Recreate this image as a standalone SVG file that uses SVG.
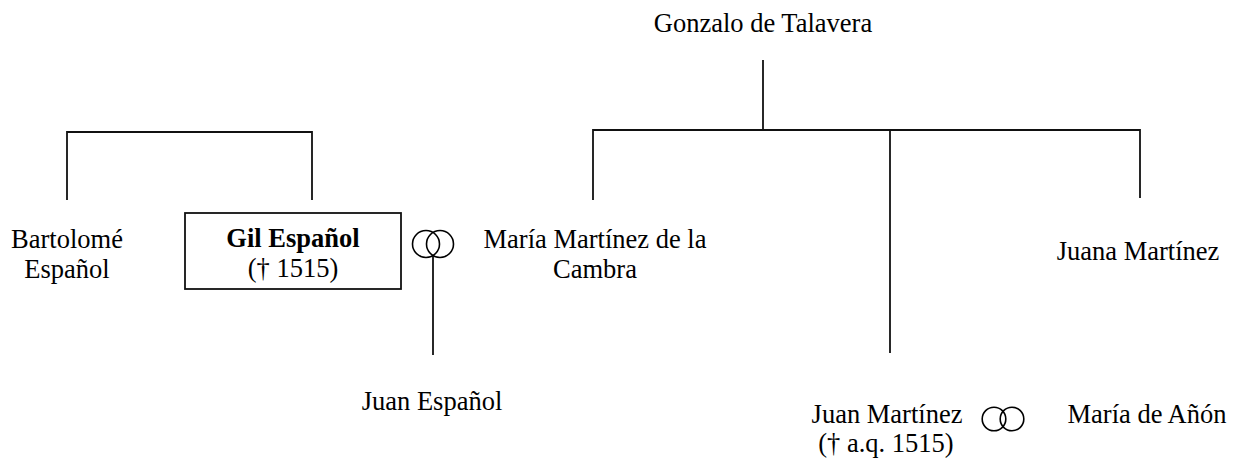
<svg xmlns="http://www.w3.org/2000/svg" width="1247" height="463" viewBox="0 0 1247 463">
<style>
text{font-family:"Liberation Serif","Times New Roman",serif;font-size:26.5px;fill:#000;text-anchor:middle}
.b{font-weight:bold}
.ln{stroke:#111;stroke-width:1.8;fill:none}
.ring{stroke:#000;stroke-width:1.6;fill:none}
</style>
<rect width="1247" height="463" fill="#fff"/>
<g id="connectors">
<path class="ln" d="M67,200 V132 H312 V200"/>
<path class="ln" d="M763,60 V130"/>
<path class="ln" d="M593,200 V130 H1140 V198"/>
<path class="ln" d="M890,130 V353"/>
<path class="ln" d="M433,255 V355"/>
</g>
<g id="ring-gil">
<circle class="ring" cx="426" cy="244" r="13.5"/>
<circle class="ring" cx="440" cy="244" r="13.5"/>
</g>
<g id="ring-juan">
<circle class="ring" cx="994" cy="419" r="11.8"/>
<circle class="ring" cx="1012" cy="419" r="11.8"/>
</g>
<g id="gonzalo"><text x="763" y="32">Gonzalo de Talavera</text></g>
<g id="bartolome"><text x="67" y="248">Bartolomé</text><text x="67" y="278">Español</text></g>
<g id="gil">
<rect x="185" y="213" width="216" height="76" fill="#fff" stroke="#111" stroke-width="1.8"/>
<text class="b" x="293" y="247">Gil Español</text>
<text x="293" y="277">(† 1515)</text>
</g>
<g id="maria-martinez"><text x="595" y="248">María Martínez de la</text><text x="595" y="278">Cambra</text></g>
<g id="juana"><text x="1138" y="260">Juana Martínez</text></g>
<g id="juan-espanol"><text x="432" y="410">Juan Español</text></g>
<g id="juan-martinez"><text x="887" y="423">Juan Martínez</text><text x="886" y="452">(† a.q. 1515)</text></g>
<g id="maria-anon"><text x="1147" y="423">María de Añón</text></g>
</svg>
